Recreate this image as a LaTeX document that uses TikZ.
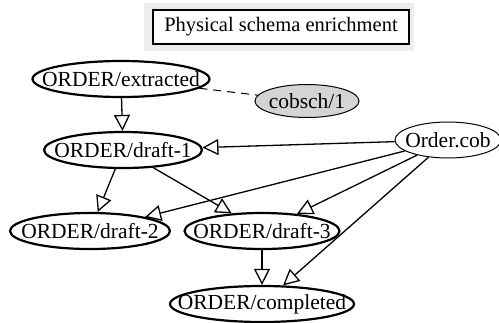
\documentclass[tikz,border=0pt]{standalone}
\usepackage{fontspec}
\setmainfont{Liberation Serif}
\usetikzlibrary{shapes.geometric,arrows.meta}

\begin{document}
\begin{tikzpicture}[
  x=1pt, y=-1pt,
  font=\fontsize{21.5}{25}\selectfont,
  version/.style={draw, ellipse, line width=2.2pt, inner xsep=-40pt, inner ysep=-8pt, minimum height=36pt},
  source/.style={draw, ellipse, line width=1pt, inner xsep=-40pt, inner ysep=-8pt, minimum height=36pt},
  schema/.style={source, fill=black!17, minimum height=33pt},
  arrow/.style={-{Triangle[open, length=16pt, width=16pt]}, line width=1.3pt},
  link/.style={dash pattern=on 8pt off 6pt, line width=1pt}
]
\useasboundingbox (0,0) rectangle (499,322);
\fill[black!7] (144,3) rectangle (414,51);
\node[draw, line width=2.5pt, fill=white, minimum width=256pt, minimum height=34pt, inner sep=0pt,
  font=\fontsize{20.5}{25}\selectfont] (title) at (281,27) {Physical schema enrichment};

\node[version, minimum width=177pt] (extracted) at (121,79) {ORDER/extracted};
\node[schema, minimum width=104pt] (cobsch) at (307,101) {cobsch/1};
\node[version, minimum width=158pt] (draftone) at (123,150) {ORDER/draft-1};
\node[source, minimum width=106pt] (cob) at (448,140) {Order.cob};
\node[version, minimum width=160pt] (drafttwo) at (90,231) {ORDER/draft-2};
\node[version, minimum width=155pt] (draftthree) at (262,231) {ORDER/draft-3};
\node[version, minimum width=184pt] (completed) at (262,304) {ORDER/completed};

\draw[link] (extracted) -- (cobsch);
\draw[arrow] (extracted) -- (draftone);
\draw[arrow] (cob) -- (draftone);
\draw[arrow] (draftone) -- (drafttwo);
\draw[arrow] (draftone) -- (draftthree);
\draw[arrow] (cob) -- (drafttwo);
\draw[arrow] (cob) -- (draftthree);
\draw[arrow] (cob) -- (completed);
\draw[arrow] (draftthree) -- (completed);
\end{tikzpicture}
\end{document}
